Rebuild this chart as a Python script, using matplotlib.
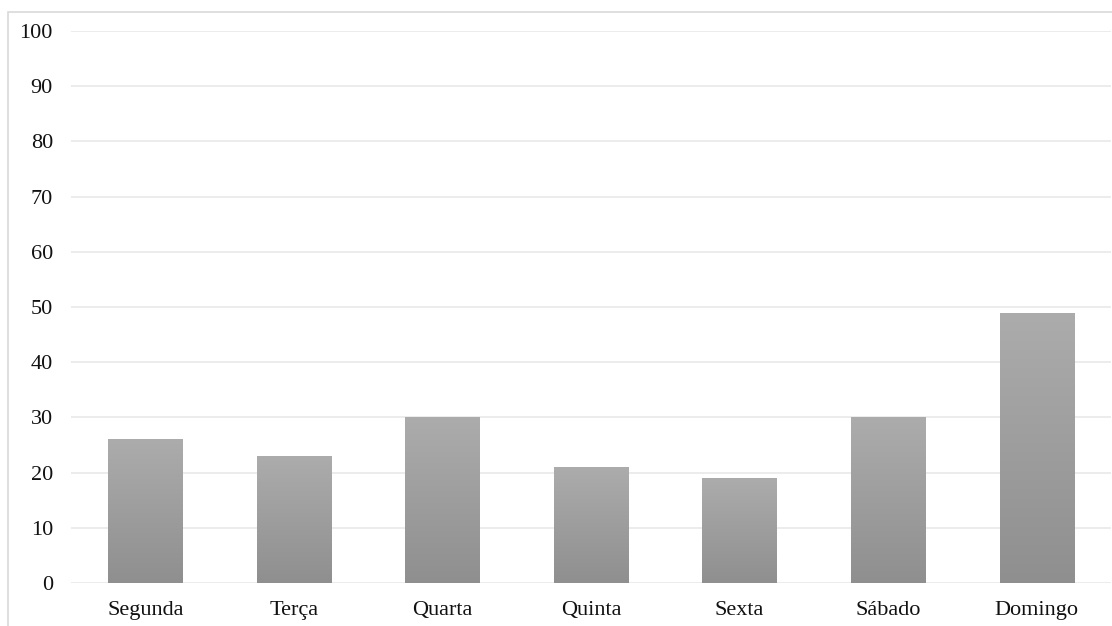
import numpy as np
import matplotlib.pyplot as plt
from matplotlib.patches import Rectangle
from matplotlib.colors import LinearSegmentedColormap

plt.rcParams['font.family'] = ['Liberation Serif', 'DejaVu Serif']

# dados
dias = ['Segunda', 'Terça', 'Quarta', 'Quinta', 'Sexta', 'Sábado', 'Domingo']
valores = [26, 23, 30, 21, 19, 30, 49]
y_ticks = [0, 10, 20, 30, 40, 50, 60, 70, 80, 90, 100]

W, H = 1112, 626
fig = plt.figure(figsize=(W / 100, H / 100), dpi=100)
ax = fig.add_axes([71 / W, 1 - 583 / H, (1111 - 71) / W, (583 - 31) / H])

# moldura cinza clara do gráfico
fig.patches.append(Rectangle((8 / W, -0.1), 1.2, 1 - 12 / H + 0.1,
                             transform=fig.transFigure, fill=False,
                             edgecolor='#d9d9d9', linewidth=1.2, zorder=0))

x = np.arange(len(dias))
bars = ax.bar(x, valores, width=0.5, color='none', edgecolor='none', zorder=2)

# gradiente vertical em cada barra
grad = np.linspace(0, 1, 256).reshape(-1, 1)
cmap = LinearSegmentedColormap.from_list('cinza', ['#8f8f8f', '#acacac'])
for b in bars:
    x0, y0 = b.get_x(), b.get_y()
    w, h = b.get_width(), b.get_height()
    im = ax.imshow(grad, extent=[x0, x0 + w, y0, y0 + h], origin='lower',
                   cmap=cmap, aspect='auto', zorder=2)
    im.set_clip_path(b)

ax.set_xlim(-0.5, len(dias) - 0.5)
ax.set_ylim(0, 100)
ax.set_yticks(y_ticks)
ax.set_xticks(x)
ax.set_xticklabels(dias)
ax.tick_params(axis='both', length=0, labelsize=16, colors='#111111')
ax.tick_params(axis='y', pad=13)
ax.tick_params(axis='x', pad=13)
ax.grid(axis='y', color='#ececec', linewidth=1.4, zorder=0)
ax.set_axisbelow(True)
for s in ax.spines.values():
    s.set_visible(False)

plt.savefig('out.png', dpi=100)
